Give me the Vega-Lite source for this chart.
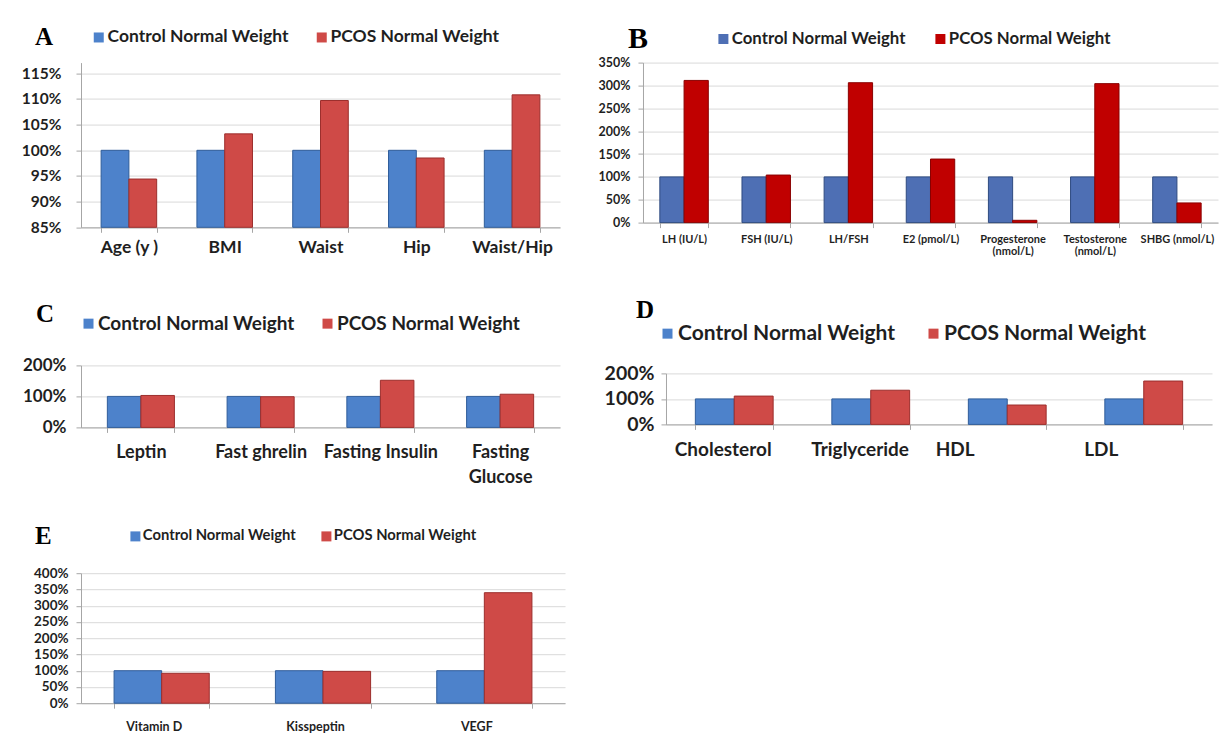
{
  "$schema": "https://vega.github.io/schema/vega-lite/v6.json",
  "background": "white",
  "padding": {"left": 19, "top": 21.6, "right": 5, "bottom": 5},
  "datasets": {
    "A": [
      {"category": "Age (y )", "group": "Control Normal Weight", "value": 100},
      {"category": "Age (y )", "group": "PCOS Normal Weight", "value": 94.4},
      {"category": "BMI", "group": "Control Normal Weight", "value": 100},
      {"category": "BMI", "group": "PCOS Normal Weight", "value": 103.2},
      {"category": "Waist", "group": "Control Normal Weight", "value": 100},
      {"category": "Waist", "group": "PCOS Normal Weight", "value": 109.7},
      {"category": "Hip", "group": "Control Normal Weight", "value": 100},
      {"category": "Hip", "group": "PCOS Normal Weight", "value": 98.5},
      {"category": "Waist/Hip", "group": "Control Normal Weight", "value": 100},
      {"category": "Waist/Hip", "group": "PCOS Normal Weight", "value": 110.8}
    ],
    "B": [
      {"category": "LH (IU/L)", "group": "Control Normal Weight", "value": 100},
      {"category": "LH (IU/L)", "group": "PCOS Normal Weight", "value": 311},
      {"category": "FSH (IU/L)", "group": "Control Normal Weight", "value": 100},
      {"category": "FSH (IU/L)", "group": "PCOS Normal Weight", "value": 104},
      {"category": "LH/FSH", "group": "Control Normal Weight", "value": 100},
      {"category": "LH/FSH", "group": "PCOS Normal Weight", "value": 306},
      {"category": "E2 (pmol/L)", "group": "Control Normal Weight", "value": 100},
      {"category": "E2 (pmol/L)", "group": "PCOS Normal Weight", "value": 139},
      {"category": "Progesterone (nmol/L)", "group": "Control Normal Weight", "value": 100},
      {"category": "Progesterone (nmol/L)", "group": "PCOS Normal Weight", "value": 5},
      {"category": "Testosterone (nmol/L)", "group": "Control Normal Weight", "value": 100},
      {"category": "Testosterone (nmol/L)", "group": "PCOS Normal Weight", "value": 304},
      {"category": "SHBG (nmol/L)", "group": "Control Normal Weight", "value": 100},
      {"category": "SHBG (nmol/L)", "group": "PCOS Normal Weight", "value": 43}
    ],
    "C": [
      {"category": "Leptin", "group": "Control Normal Weight", "value": 100},
      {"category": "Leptin", "group": "PCOS Normal Weight", "value": 103},
      {"category": "Fast ghrelin", "group": "Control Normal Weight", "value": 100},
      {"category": "Fast ghrelin", "group": "PCOS Normal Weight", "value": 99},
      {"category": "Fasting Insulin", "group": "Control Normal Weight", "value": 100},
      {"category": "Fasting Insulin", "group": "PCOS Normal Weight", "value": 152},
      {"category": "Fasting Glucose", "group": "Control Normal Weight", "value": 100},
      {"category": "Fasting Glucose", "group": "PCOS Normal Weight", "value": 107}
    ],
    "D": [
      {"category": "Cholesterol", "group": "Control Normal Weight", "value": 100},
      {"category": "Cholesterol", "group": "PCOS Normal Weight", "value": 111},
      {"category": "Triglyceride", "group": "Control Normal Weight", "value": 100},
      {"category": "Triglyceride", "group": "PCOS Normal Weight", "value": 134},
      {"category": "HDL", "group": "Control Normal Weight", "value": 100},
      {"category": "HDL", "group": "PCOS Normal Weight", "value": 76},
      {"category": "LDL", "group": "Control Normal Weight", "value": 100},
      {"category": "LDL", "group": "PCOS Normal Weight", "value": 170}
    ],
    "E": [
      {"category": "Vitamin D", "group": "Control Normal Weight", "value": 100},
      {"category": "Vitamin D", "group": "PCOS Normal Weight", "value": 92},
      {"category": "Kisspeptin", "group": "Control Normal Weight", "value": 100},
      {"category": "Kisspeptin", "group": "PCOS Normal Weight", "value": 98},
      {"category": "VEGF", "group": "Control Normal Weight", "value": 100},
      {"category": "VEGF", "group": "PCOS Normal Weight", "value": 340}
    ]
  },
  "config": {
    "view": {"stroke": null},
    "font": "Lato",
    "axis": {
      "labelFont": "Lato", "labelFontWeight": "bold", "labelColor": "#1f1f1f",
      "domainColor": "#a6a6a6", "tickColor": "#a6a6a6", "gridColor": "#d9d9d9",
      "tickSize": 5, "title": null
    },
    "axisX": {"labelAngle": 0, "tickBand": "extent", "grid": false},
    "axisY": {"grid": true},
    "legend": {
      "orient": "none", "direction": "horizontal", "symbolType": "square", "symbolSize": 100,
      "symbolStrokeWidth": 0, "labelFont": "Lato", "labelFontWeight": "bold", "labelColor": "#1f1f1f",
      "labelLimit": 400, "titleFont": "Liberation Serif", "titleFontWeight": "bold", "titleColor": "#000000",
      "titleOrient": "left", "padding": 0, "labelOffset": 0, "titleLimit": 100
    }
  },
  "resolve": {"scale": {"color": "independent", "stroke": "independent", "xOffset": "independent"}, "legend": {"color": "independent"}},
  "columns": 2,
  "align": "none",
  "spacing": {"row": 39.8, "column": 28},
  "concat": [
    {
      "width": 479, "height": 164.7,
      "data": {"name": "A"},
      "mark": {"type": "bar", "strokeWidth": 1},
      "encoding": {
        "x": {"field": "category", "type": "nominal", "sort": null, "title": null,
          "scale": {"paddingInner": 0.42, "paddingOuter": 0.21},
          "axis": {"labelFontSize": 17.5, "labelPadding": 6.5}},
        "xOffset": {"field": "group", "type": "nominal", "sort": null},
        "y": {"field": "value", "type": "quantitative", "title": null,
          "scale": {"domain": [85, 117.084], "zero": false, "nice": false},
          "axis": {"values": [85, 90, 95, 100, 105, 110, 115], "labelExpr": "datum.value + '%'", "labelFontSize": 15.5, "labelPadding": 15, "minExtent": 56}},
        "y2": {"datum": 85},
        "color": {"field": "group", "type": "nominal",
          "scale": {"domain": ["Control Normal Weight", "PCOS Normal Weight"], "range": ["#4D82CB", "#CF4A47"]},
          "legend": {"title": "A", "legendX": -52, "legendY": -40.25, "padding": 6, "labelFontSize": 17.5, "titleFontSize": 25,
            "titlePadding": 36, "columnPadding": 24, "titleAnchor": "middle", "titleBaseline": "middle"}},
        "stroke": {"field": "group", "type": "nominal",
          "scale": {"domain": ["Control Normal Weight", "PCOS Normal Weight"], "range": ["#2F5C9A", "#9C2E2C"]}, "legend": null}
      }
    },
    {
      "width": 575, "height": 160,
      "data": {"name": "B"},
      "mark": {"type": "bar", "strokeWidth": 1},
      "encoding": {
        "x": {"field": "category", "type": "nominal", "sort": null, "title": null,
          "scale": {"paddingInner": 0.41, "paddingOuter": 0.205},
          "axis": {"labelFontSize": 11, "labelPadding": 5.5, "labelLineHeight": 12.7,
            "labelExpr": "length(datum.label) > 15 ? split(datum.label, ' ') : datum.label"}},
        "xOffset": {"field": "group", "type": "nominal", "sort": null},
        "y": {"field": "value", "type": "quantitative", "title": null,
          "scale": {"domain": [0, 350], "nice": false},
          "axis": {"values": [0, 50, 100, 150, 200, 250, 300, 350], "labelExpr": "datum.value + '%'", "labelFontSize": 12.5, "labelPadding": 8, "minExtent": 50}},
        "color": {"field": "group", "type": "nominal",
          "scale": {"domain": ["Control Normal Weight", "PCOS Normal Weight"], "range": ["#4E6FB4", "#C00000"]},
          "legend": {"title": "B", "legendX": -23, "legendY": -40.4, "padding": 8, "labelFontSize": 16.8, "titleFontSize": 30,
            "titlePadding": 66, "columnPadding": 26, "titleAnchor": "middle", "titleBaseline": "middle"}},
        "stroke": {"field": "group", "type": "nominal",
          "scale": {"domain": ["Control Normal Weight", "PCOS Normal Weight"], "range": ["#2E4A80", "#8A0000"]}, "legend": null}
      }
    },
    {
      "width": 479, "height": 62,
      "data": {"name": "C"},
      "mark": {"type": "bar", "strokeWidth": 1},
      "encoding": {
        "x": {"field": "category", "type": "nominal", "sort": null, "title": null,
          "scale": {"paddingInner": 0.44, "paddingOuter": 0.22},
          "axis": {"labelFontSize": 18, "labelPadding": 11, "labelLineHeight": 25,
            "labelExpr": "datum.label == 'Fasting Glucose' ? ['Fasting', 'Glucose'] : datum.label"}},
        "xOffset": {"field": "group", "type": "nominal", "sort": null},
        "y": {"field": "value", "type": "quantitative", "title": null,
          "scale": {"domain": [0, 200], "nice": false},
          "axis": {"values": [0, 100, 200], "labelExpr": "datum.value + '%'", "labelFontSize": 17, "labelPadding": 10, "minExtent": 61}},
        "color": {"field": "group", "type": "nominal",
          "scale": {"domain": ["Control Normal Weight", "PCOS Normal Weight"], "range": ["#4D82CB", "#CF4A47"]},
          "legend": {"title": "C", "legendX": -61, "legendY": -67.5, "padding": 16, "labelFontSize": 19, "titleFontSize": 25,
            "titlePadding": 24, "columnPadding": 23, "titleAnchor": "start", "titleBaseline": "middle"}},
        "stroke": {"field": "group", "type": "nominal",
          "scale": {"domain": ["Control Normal Weight", "PCOS Normal Weight"], "range": ["#2F5C9A", "#9C2E2C"]}, "legend": null}
      }
    },
    {
      "width": 546, "height": 51,
      "data": {"name": "D"},
      "mark": {"type": "bar", "strokeWidth": 1},
      "encoding": {
        "x": {"field": "category", "type": "nominal", "sort": null, "title": null,
          "scale": {"paddingInner": 0.43, "paddingOuter": 0.215},
          "axis": {"labelFontSize": 19, "labelPadding": 11.5, "labelAlign": "left",
            "labelOffset": {"condition": {"test": "datum.value === 'HDL'", "value": -72}, "value": -60}}},
        "xOffset": {"field": "group", "type": "nominal", "sort": null},
        "y": {"field": "value", "type": "quantitative", "title": null,
          "scale": {"domain": [0, 200], "nice": false},
          "axis": {"values": [0, 100, 200], "labelExpr": "datum.value + '%'", "labelFontSize": 19.5, "labelPadding": 7, "minExtent": 73}},
        "color": {"field": "group", "type": "nominal",
          "scale": {"domain": ["Control Normal Weight", "PCOS Normal Weight"], "range": ["#4D82CB", "#CF4A47"]},
          "legend": {"title": "D", "legendX": -55, "legendY": -75.5, "padding": 25, "labelFontSize": 21, "titleFontSize": 25,
            "titlePadding": 2, "columnPadding": 27, "titleAnchor": "start", "titleBaseline": "bottom"}},
        "stroke": {"field": "group", "type": "nominal",
          "scale": {"domain": ["Control Normal Weight", "PCOS Normal Weight"], "range": ["#2F5C9A", "#9C2E2C"]}, "legend": null}
      }
    },
    {
      "width": 484, "height": 130,
      "data": {"name": "E"},
      "mark": {"type": "bar", "strokeWidth": 1},
      "encoding": {
        "x": {"field": "category", "type": "nominal", "sort": null, "title": null,
          "scale": {"paddingInner": 0.41, "paddingOuter": 0.205},
          "axis": {"labelFontSize": 12.5, "labelPadding": 12, "labelOffset": -8}},
        "xOffset": {"field": "group", "type": "nominal", "sort": null},
        "y": {"field": "value", "type": "quantitative", "title": null,
          "scale": {"domain": [0, 400], "nice": false},
          "axis": {"values": [0, 50, 100, 150, 200, 250, 300, 350, 400], "labelExpr": "datum.value + '%'", "labelFontSize": 13.5, "labelPadding": 8, "minExtent": 62}},
        "color": {"field": "group", "type": "nominal",
          "scale": {"domain": ["Control Normal Weight", "PCOS Normal Weight"], "range": ["#4D82CB", "#CF4A47"]},
          "legend": {"title": "E", "legendX": -48.3, "legendY": -46.9, "padding": 2.3, "labelFontSize": 14.8, "titleFontSize": 25,
            "titlePadding": 76, "columnPadding": 23, "titleAnchor": "middle", "titleBaseline": "middle"}},
        "stroke": {"field": "group", "type": "nominal",
          "scale": {"domain": ["Control Normal Weight", "PCOS Normal Weight"], "range": ["#2F5C9A", "#9C2E2C"]}, "legend": null}
      }
    }
  ]
}
